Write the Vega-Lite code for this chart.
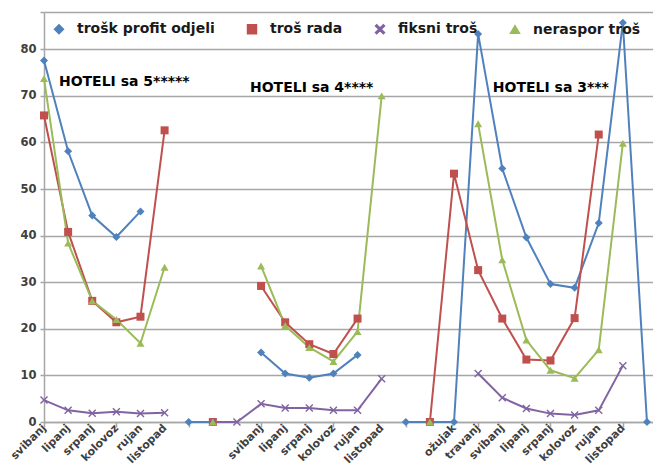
{
  "$schema": "https://vega.github.io/schema/vega-lite/v6.json",
  "autosize": "none",
  "width": 609,
  "height": 410,
  "padding": {"left": 44, "top": 12, "right": 0, "bottom": 54},
  "background": "white",
  "datasets": {
    "main": [
      {"i": 1, "trošk profit odjeli": 77.6, "troš rada": 65.8, "fiksni troš": 4.7, "neraspor troš": 73.7},
      {"i": 2, "trošk profit odjeli": 58.1, "troš rada": 40.8, "fiksni troš": 2.5, "neraspor troš": 38.4},
      {"i": 3, "trošk profit odjeli": 44.3, "troš rada": 26.0, "fiksni troš": 1.9, "neraspor troš": 26.0},
      {"i": 4, "trošk profit odjeli": 39.7, "troš rada": 21.4, "fiksni troš": 2.2, "neraspor troš": 22.0},
      {"i": 5, "trošk profit odjeli": 45.2, "troš rada": 22.6, "fiksni troš": 1.8, "neraspor troš": 16.9},
      {"i": 6, "trošk profit odjeli": null, "troš rada": 62.6, "fiksni troš": 2.0, "neraspor troš": 33.2},
      {"i": 7, "trošk profit odjeli": 0, "troš rada": null, "fiksni troš": null, "neraspor troš": null},
      {"i": 8, "trošk profit odjeli": 0, "troš rada": 0, "fiksni troš": 0, "neraspor troš": 0},
      {"i": 9, "trošk profit odjeli": null, "troš rada": null, "fiksni troš": 0, "neraspor troš": null},
      {"i": 10, "trošk profit odjeli": 14.9, "troš rada": 29.2, "fiksni troš": 3.9, "neraspor troš": 33.5},
      {"i": 11, "trošk profit odjeli": 10.4, "troš rada": 21.4, "fiksni troš": 3.0, "neraspor troš": 20.7},
      {"i": 12, "trošk profit odjeli": 9.5, "troš rada": 16.7, "fiksni troš": 3.0, "neraspor troš": 16.0},
      {"i": 13, "trošk profit odjeli": 10.4, "troš rada": 14.6, "fiksni troš": 2.5, "neraspor troš": 13.0},
      {"i": 14, "trošk profit odjeli": 14.4, "troš rada": 22.2, "fiksni troš": 2.5, "neraspor troš": 19.4},
      {"i": 15, "trošk profit odjeli": null, "troš rada": null, "fiksni troš": 9.3, "neraspor troš": 70.0},
      {"i": 16, "trošk profit odjeli": 0, "troš rada": null, "fiksni troš": null, "neraspor troš": null},
      {"i": 17, "trošk profit odjeli": 0, "troš rada": 0, "fiksni troš": null, "neraspor troš": 0},
      {"i": 18, "trošk profit odjeli": 0, "troš rada": 53.3, "fiksni troš": null, "neraspor troš": null},
      {"i": 19, "trošk profit odjeli": 83.3, "troš rada": 32.6, "fiksni troš": 10.4, "neraspor troš": 64.0},
      {"i": 20, "trošk profit odjeli": 54.4, "troš rada": 22.2, "fiksni troš": 5.2, "neraspor troš": 34.8},
      {"i": 21, "trošk profit odjeli": 39.6, "troš rada": 13.4, "fiksni troš": 2.9, "neraspor troš": 17.6},
      {"i": 22, "trošk profit odjeli": 29.6, "troš rada": 13.2, "fiksni troš": 1.8, "neraspor troš": 11.1},
      {"i": 23, "trošk profit odjeli": 28.8, "troš rada": 22.3, "fiksni troš": 1.5, "neraspor troš": 9.4},
      {"i": 24, "trošk profit odjeli": 42.7, "troš rada": 61.7, "fiksni troš": 2.5, "neraspor troš": 15.5},
      {"i": 25, "trošk profit odjeli": 85.7, "troš rada": null, "fiksni troš": 12.1, "neraspor troš": 59.8},
      {"i": 26, "trošk profit odjeli": 0, "troš rada": null, "fiksni troš": null, "neraspor troš": null}
    ],
    "notes": [
      {"x": 1.62, "y": 72.9, "t": "HOTELI sa 5*****"},
      {"x": 9.54, "y": 71.7, "t": "HOTELI  sa 4****"},
      {"x": 19.61, "y": 71.6, "t": "HOTELI sa 3***"}
    ]
  },
  "config": {
    "view": {"stroke": null},
    "mark": {"invalid": "break-paths-show-domains"},
    "axis": {
      "labelFont": "DejaVu Sans",
      "labelFontWeight": "bold",
      "labelColor": "#404040",
      "domainColor": "#a6a6a6",
      "domainWidth": 1.5,
      "tickColor": "#a6a6a6",
      "tickWidth": 1.5,
      "gridColor": "#a6a6a6",
      "gridWidth": 1.5,
      "title": null
    }
  },
  "layer": [
    {
      "data": {"name": "main"},
      "transform": [
        {"fold": ["trošk profit odjeli", "troš rada", "fiksni troš", "neraspor troš"], "as": ["s", "v"]}
      ],
      "mark": {"type": "line", "strokeWidth": 2},
      "encoding": {
        "x": {
          "field": "i", "type": "quantitative",
          "scale": {"domain": [1, 26.25], "nice": false, "zero": false},
          "axis": {
            "values": [1,2,3,4,5,6,7,8,9,10,11,12,13,14,15,16,17,18,19,20,21,22,23,24,25,26],
            "labelExpr": "['svibanj','lipanj','srpanj','kolovoz','rujan','listopad','','','','svibanj','lipanj','srpanj','kolovoz','rujan','listopad','','','ožujak','travanj','svibanj','lipanj','srpanj','kolovoz','rujan','listopad',''][datum.value - 1]",
            "labelAngle": -45,
            "labelAlign": "right",
            "labelBaseline": "middle",
            "labelPadding": 4,
            "labelFontSize": 11,
            "labelOverlap": false,
            "labelBound": false,
            "labelFlush": false,
            "ticks": false,
            "grid": false,
            "orient": "bottom"
          }
        },
        "y": {
          "field": "v", "type": "quantitative",
          "scale": {"domain": [0, 88], "nice": false},
          "axis": {
            "values": [0, 10, 20, 30, 40, 50, 60, 70, 80, 88],
            "labelExpr": "datum.value == 88 ? '' : datum.label",
            "labelFontSize": 11.5,
            "labelPadding": 4,
            "tickSize": 4,
            "grid": true
          }
        },
        "color": {
          "field": "s", "type": "nominal",
          "scale": {
            "domain": ["trošk profit odjeli", "troš rada", "fiksni troš", "neraspor troš"],
            "range": ["#4F81BD", "#C0504D", "#8064A2", "#9BBB59"]
          }
        }
      }
    },
    {
      "data": {"name": "main"},
      "transform": [
        {"fold": ["trošk profit odjeli", "troš rada", "fiksni troš", "neraspor troš"], "as": ["s", "v"]}
      ],
      "mark": {"type": "point", "filled": true, "opacity": 1},
      "encoding": {
        "x": {
          "field": "i", "type": "quantitative",
          "axis": {
            "values": [1, 4, 7, 10, 13, 16, 19, 22, 25],
            "labels": false,
            "ticks": true,
            "tickSize": 5,
            "domain": false,
            "grid": false,
            "orient": "bottom"
          }
        },
        "y": {"field": "v", "type": "quantitative"},
        "color": {
          "field": "s", "type": "nominal",
          "legend": {
            "orient": "none",
            "legendX": 8,
            "legendY": 10,
            "direction": "horizontal",
            "columns": 4,
            "columnPadding": 29,
            "padding": 0,
            "title": null,
            "labelFont": "DejaVu Sans",
            "labelFontWeight": "bold",
            "labelFontSize": 14,
            "labelColor": "#1a1a1a",
            "labelOffset": 11,
            "labelLimit": 300,
            "symbolSize": 80,
            "symbolOpacity": 1
          }
        },
        "shape": {
          "field": "s", "type": "nominal",
          "scale": {
            "domain": ["trošk profit odjeli", "troš rada", "fiksni troš", "neraspor troš"],
            "range": ["diamond", "square", "M-1,-0.75L-0.75,-1L0,-0.25L0.75,-1L1,-0.75L0.25,0L1,0.75L0.75,1L0,0.25L-0.75,1L-1,0.75L-0.25,0Z", "triangle-up"]
          }
        },
        "size": {"value": 64}
      }
    },
    {
      "data": {"name": "notes"},
      "mark": {"type": "text", "align": "left", "baseline": "middle", "font": "DejaVu Sans", "fontWeight": "bold", "fontSize": 14, "color": "#000000"},
      "encoding": {
        "x": {"field": "x", "type": "quantitative", "axis": null},
        "y": {"field": "y", "type": "quantitative"},
        "text": {"field": "t"}
      }
    }
  ],
  "resolve": {"axis": {"x": "independent"}}
}
